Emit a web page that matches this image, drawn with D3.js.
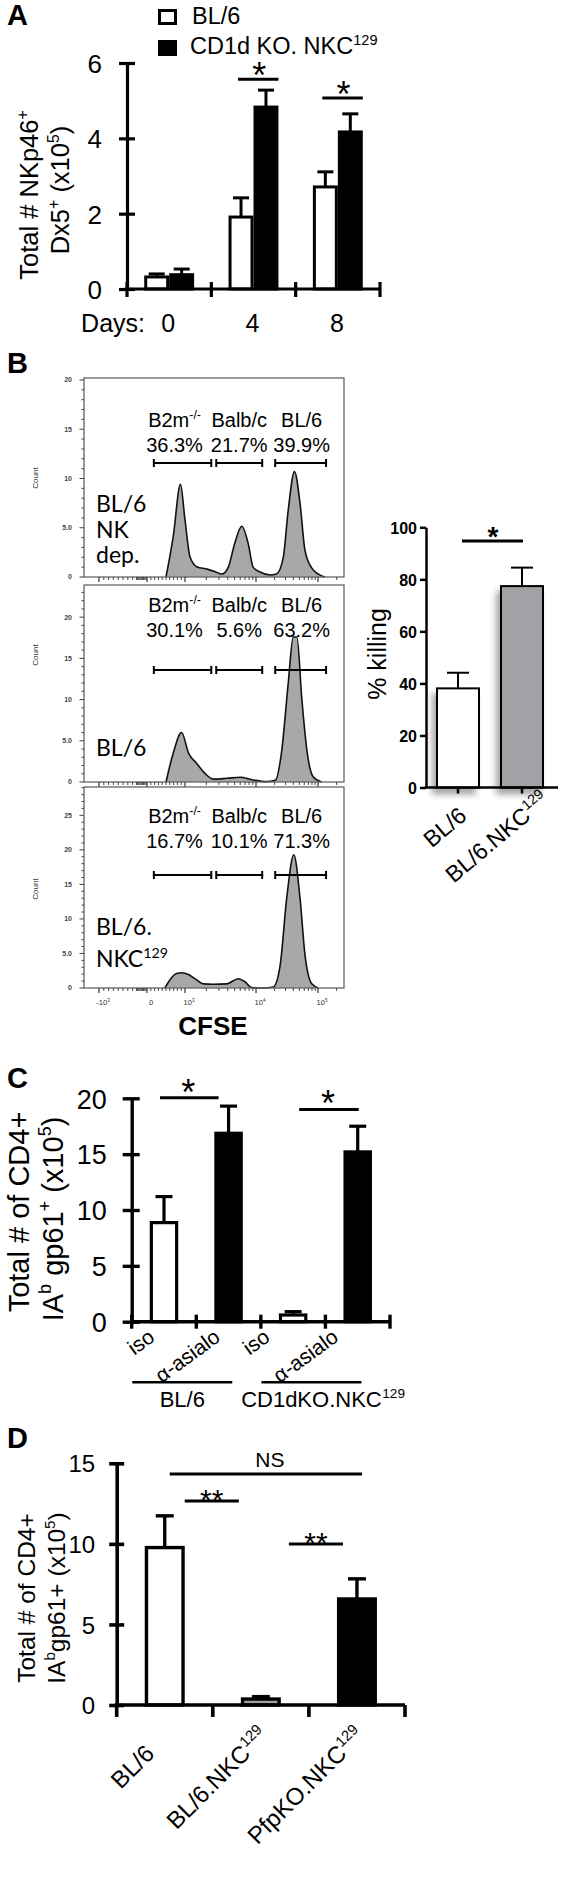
<!DOCTYPE html>
<html><head><meta charset="utf-8">
<script src="https://cdn.jsdelivr.net/npm/d3@7/dist/d3.min.js"></script>
<style>html,body{margin:0;padding:0;background:#fff}svg{display:block}</style>
</head><body>
<svg id="fig" width="561" height="1891" xmlns="http://www.w3.org/2000/svg"></svg>
<script>
// ================= DATA =================
// Panel A
const daysA = ["0", "4", "8"];
const seriesA = ["BL/6", "CD1d KO. NKC^{129}"];
const bl6A = [0.32, 1.91, 2.71];
const bl6ErrA = [0.08, 0.51, 0.40];
const cd1dA = [0.38, 4.83, 4.17];
const cd1dErrA = [0.15, 0.45, 0.48];
const yTicksA = [0, 2, 4, 6];
const sigDaysA = ["4", "8"];
const sigLevelA = [5.57, 5.07];

// Panel B histograms (x = position on CFSE axis: -1=-10^3, 0=0, 1=10^3, 2=10^4, 3=10^5; y = count)
const cfseTickPos = [-1, 0, 1, 2, 3];
const cfseTickLabels = ["-10^{3}", "0", "10^{3}", "10^{4}", "10^{5}"];
const histSampleLines = [["BL/6", "NK", "dep."], ["BL/6"], ["BL/6.", "NKC^{129}"]];
const gateNames = ["B2m^{-/-}", "Balb/c", "BL/6"];
const gatePct = [["36.3%", "21.7%", "39.9%"], ["30.1%", "5.6%", "63.2%"], ["16.7%", "10.1%", "71.3%"]];
const gateRanges = [[0.18, 1.37], [1.44, 2.10], [2.31, 3.13]];
const countMax = [20.2, 23.9, 29.1];
const countTicks = [[0, 5, 10, 15, 20], [0, 5, 10, 15, 20], [0, 5, 10, 15, 20, 25]];
const countTickText = { 0: "0", 5: "5.0", 10: "10", 15: "15", 20: "20", 25: "25" };
const histNKdep = [[0.50,0],[0.69,4.1],[0.88,9.4],[1.00,5.8],[1.07,2.05],[1.165,1.05],[1.31,0.8],[1.42,0.55],[1.52,0.3],[1.61,1.0],[1.70,3.4],[1.80,5.15],[1.89,3.4],[1.96,1.0],[2.065,0.5],[2.23,0.2],[2.33,0.3],[2.44,2.0],[2.52,6.8],[2.62,10.7],[2.71,7.5],[2.79,2.7],[2.90,0.9],[3.005,0.3],[3.11,0]];
const histBL6 = [[0.50,0],[0.69,3.5],[0.91,6.0],[1.05,3.5],[1.165,2.25],[1.28,1.05],[1.40,0.35],[1.59,0.45],[1.775,0.57],[1.96,0.25],[2.17,0.05],[2.31,0.2],[2.41,3.5],[2.52,12],[2.60,17.6],[2.66,17.6],[2.74,10],[2.82,3.9],[2.92,0.65],[3.06,0]];
const histNKC = [[0.47,0],[0.605,1.2],[0.78,2.1],[0.91,2.2],[1.05,1.95],[1.14,1.35],[1.26,0.6],[1.40,0.55],[1.59,0.6],[1.75,1.35],[1.845,0.9],[1.94,0.05],[2.12,0],[2.28,0.15],[2.39,3.3],[2.495,13],[2.61,19.3],[2.71,13],[2.79,4.8],[2.90,0.6],[3.005,0]];
const histogramsB = [histNKdep, histBL6, histNKC];

// Panel B % killing
const killGroups = ["BL/6", "BL/6.NKC^{129}"];
const killMean = [38.1, 77.4];
const killErr = [6.0, 7.1];
const killTicks = [0, 20, 40, 60, 80, 100];
const killSigLevel = 94.7;

// Panel C
const condC = ["iso", "α-asialo", "iso", "α-asialo"];
const groupsC = ["BL/6", "CD1dKO.NKC^{129}"];
const meanC = [8.87, 16.87, 0.6, 15.2];
const errC = [2.33, 2.43, 0.3, 2.3];
const yTicksC = [0, 5, 10, 15, 20];
const sigPairsC = [[0, 1], [2, 3]];
const sigLevelC = [20.05, 19.0];

// Panel D
const groupsD = ["BL/6", "BL/6.NKC^{129}", "PfpKO.NKC^{129}"];
const meanD = [9.77, 0.37, 6.58];
const errD = [1.97, 0.15, 1.25];
const yTicksD = [0, 5, 10, 15];
const sigPairsD = [[0, 2], [0, 1], [1, 2]];
const sigLevelD = [14.34, 12.66, 9.99];
const sigLabelD = ["NS", "**", "**"];

// ================= HELPERS =================
const F = "'Liberation Sans', Arial, Helvetica, sans-serif";
const FL = "Lato, 'Open Sans', sans-serif";
const svg = d3.select("#fig");

function parse(s) {
  const parts = []; const re = /\^\{([^}]*)\}/g; let last = 0, m;
  while ((m = re.exec(s))) {
    if (m.index > last) parts.push({ t: s.slice(last, m.index), sup: false });
    parts.push({ t: m[1], sup: true }); last = re.lastIndex;
  }
  if (last < s.length) parts.push({ t: s.slice(last), sup: false });
  return parts;
}
function rich(parent, str, size, attrs = {}, family = F) {
  const t = parent.append("text").attr("font-size", size).attr("font-family", family).attr("fill", "#000");
  for (const k in attrs) t.attr(k, attrs[k]);
  const sh = size * 0.4; let prev = false;
  parse(str).forEach(p => {
    const ts = t.append("tspan").text(p.t);
    if (p.sup) ts.attr("font-size", size * 0.62);
    if (p.sup && !prev) ts.attr("dy", -sh);
    if (!p.sup && prev) ts.attr("dy", sh);
    prev = p.sup;
  });
  return t;
}
// label whose trailing superscript hangs past the anchor
function supLabel(parent, str, size, anchor, family = F, weight = "normal") {
  const parts = parse(str);
  let supTxt = null;
  if (parts.length > 1 && parts[parts.length - 1].sup) supTxt = parts.pop().t;
  const mainStr = parts.map(p => p.sup ? `^{${p.t}}` : p.t).join("");
  const main = rich(parent, mainStr, size, { "text-anchor": anchor, "font-weight": weight }, family);
  if (supTxt) {
    const w = main.node().getComputedTextLength();
    const xEnd = anchor === "end" ? 0 : anchor === "middle" ? w / 2 : w;
    parent.append("text").attr("x", xEnd + 0.5).attr("y", -size * 0.4).attr("font-size", size * 0.62)
      .attr("font-family", family).attr("font-weight", weight).text(supTxt);
  }
}
function line(g, x1, y1, x2, y2, sw, col = "#000") {
  return g.append("line").attr("x1", x1).attr("y1", y1).attr("x2", x2).attr("y2", y2)
    .attr("stroke", col).attr("stroke-width", sw);
}
function yAxis(g, scale, x, ticks, o) {
  const ax = g.append("g").attr("transform", `translate(${x},0)`)
    .call(d3.axisLeft(scale).tickValues(ticks).tickSize(o.out).tickSizeOuter(0).tickPadding(o.pad).tickFormat(d3.format("d")));
  ax.select(".domain").attr("stroke", "#000").attr("stroke-width", o.sw);
  ax.selectAll(".tick line").attr("stroke", "#000").attr("stroke-width", o.sw).attr("x1", o.inn || 0);
  ax.selectAll(".tick text").attr("font-size", o.size).attr("font-family", F).attr("fill", "#000")
    .attr("font-weight", o.weight || "normal").attr("dy", "0.36em");
  return ax;
}
function barWithErr(g, cx, w, y, v, e, fill, sw, cap, filter) {
  line(g, cx, y(v), cx, y(v + e), sw);
  line(g, cx - cap, y(v + e), cx + cap, y(v + e), sw);
  const r = g.append("rect").attr("x", cx - w / 2 + sw / 2).attr("width", w - sw)
    .attr("y", y(v)).attr("height", y(0) - y(v)).attr("fill", fill).attr("stroke", "#000").attr("stroke-width", sw);
  if (filter) r.attr("filter", filter);
}
function star(g, x, y, txt, size, weight = "normal") {
  g.append("text").attr("x", x).attr("y", y).attr("text-anchor", "middle").attr("font-size", size)
    .attr("font-family", F).attr("font-weight", weight).text(txt);
}
function panelLetter(t, x, y) {
  svg.append("text").attr("x", x).attr("y", y).attr("font-size", 29).attr("font-weight", "bold")
    .attr("font-family", F).text(t);
}
function yTitle(g, str, x, y, size) {
  rich(g, str, size, { "text-anchor": "middle", transform: `translate(${x},${y}) rotate(-90)` });
}

const defs = svg.append("defs");
const flt = defs.append("filter").attr("id", "shadow").attr("x", "-40%").attr("y", "-10%").attr("width", "180%").attr("height", "130%");
flt.append("feDropShadow").attr("dx", -4).attr("dy", 6).attr("stdDeviation", 3).attr("flood-color", "#000").attr("flood-opacity", 0.35);

// ================= PANEL A =================
{
  const g = svg.append("g");
  panelLetter("A", 7, 25);
  const y = d3.scaleLinear().domain([0, 6]).range([289, 63]);
  const x = d3.scaleBand().domain(daysA).range([127, 380]);
  const xi = d3.scaleBand().domain(seriesA).range([0, x.bandwidth()]).paddingOuter(0.69);
  const vals = [bl6A, cd1dA], errs = [bl6ErrA, cd1dErrA], fills = ["#fff", "#000"];
  seriesA.forEach((s, si) => daysA.forEach((d, di) => {
    const cx = x(d) + xi(s) + xi.bandwidth() / 2;
    barWithErr(g, cx, xi.bandwidth(), y, vals[si][di], errs[si][di], fills[si], 3, 8);
  }));
  yAxis(g, y, 127, yTicksA, { out: 8, inn: 8, pad: 17, sw: 3.2, size: 26 });
  const bounds = daysA.map(d => x(d)).concat([x.range()[1]]);
  line(g, 127 - 1.6, y(0), x.range()[1], y(0), 3.2);
  bounds.forEach(b => line(g, b, y(0) - 7, b, y(0) + 8, 3.2));
  sigDaysA.forEach((d, i) => {
    const x1 = x(d) + xi(seriesA[0]) + xi.bandwidth() / 2 - 3;
    const x2 = x(d) + xi(seriesA[1]) + xi.bandwidth();
    const ly = y(sigLevelA[i]);
    line(g, x1, ly, x2, ly, 3);
    star(g, (x1 + x2) / 2 + 1, ly + 9, "*", 36);
  });
  g.append("text").attr("x", 145).attr("y", 332).attr("text-anchor", "end").attr("font-size", 25).attr("font-family", F).text("Days:");
  daysA.forEach(d => g.append("text").attr("x", x(d) + x.bandwidth() / 2 - 1).attr("y", 332).attr("text-anchor", "middle")
    .attr("font-size", 25).attr("font-family", F).text(d));
  g.append("rect").attr("x", 159.5).attr("y", 10.5).attr("width", 16).attr("height", 13).attr("fill", "#fff").attr("stroke", "#000").attr("stroke-width", 3);
  g.append("rect").attr("x", 158).attr("y", 40).attr("width", 19).attr("height", 16).attr("fill", "#000");
  rich(g, seriesA[0], 23.5, { x: 192, y: 23.5 });
  rich(g, seriesA[1], 23.5, { x: 190, y: 54 });
  yTitle(g, "Total # NKp46^{+}", 38, 195, 25.5);
  yTitle(g, "Dx5^{+} (x10^{5})", 69, 190, 25.5);
}

// ================= PANEL B histograms =================
{
  const g = svg.append("g");
  panelLetter("B", 7, 373);
  const hx = d3.scaleLinear().domain(cfseTickPos).range([99, 147, 185, 256, 318]);
  const frames = [[378, 577], [585, 782], [787, 988]];
  const nameY = [427, 612, 823], gateY = [463, 670, 875];
  const sampleY = [512, 756, 935], sampleStep = [25.5, 0, 31.7];
  const countY = [478, 655, 889];
  const gateOffset = [-8, 0, 1];
  const fx0 = 84, fx1 = 344;
  const minor = [];
  for (let i = 1; i <= 7; i++) minor.push(-1 + i * 0.1);
  for (let p = -0.22; p < -0.01; p += 0.025) minor.push(p);
  for (let i = 1; i <= 9; i++) minor.push(i * 0.1);
  for (let dec = 1; dec <= 3; dec++) for (let k = 2; k <= 9; k++) { if (dec === 3 && k > 2) break; minor.push(dec + Math.log10(k)); }

  histogramsB.forEach((data, i) => {
    const [top, bot] = frames[i];
    const hy = d3.scaleLinear().domain([0, countMax[i]]).range([bot, top]);
    const area = d3.area().x(d => hx(d[0])).y0(hy(0)).y1(d => hy(d[1])).curve(d3.curveMonotoneX);
    const ln = d3.line().x(d => hx(d[0])).y(d => hy(d[1])).curve(d3.curveMonotoneX);
    g.append("path").datum(data).attr("d", area).attr("fill", "#a8a8a8");
    g.append("path").datum(data).attr("d", ln).attr("fill", "none").attr("stroke", "#111").attr("stroke-width", 1.6);
    g.append("rect").attr("x", fx0).attr("y", top).attr("width", fx1 - fx0).attr("height", bot - top)
      .attr("fill", "none").attr("stroke", "#666").attr("stroke-width", 1.3);
    for (let c = 0; c <= Math.floor(countMax[i]); c++) {
      const major = countTicks[i].includes(c);
      line(g, fx0 - (major ? 4.5 : 2.5), hy(c), fx0, hy(c), 1, "#444");
    }
    countTicks[i].forEach(c => g.append("text").attr("x", 72).attr("y", hy(c)).attr("dy", "0.35em")
      .attr("text-anchor", "end").attr("font-size", 7).attr("font-weight", "bold").attr("fill", "#444")
      .attr("font-family", F).text(countTickText[c]));
    g.append("text").attr("transform", `translate(38,${countY[i]}) rotate(-90)`).attr("text-anchor", "middle")
      .attr("font-size", 8).attr("fill", "#333").attr("font-family", F).text("Count");
    cfseTickPos.forEach(p => line(g, hx(p), bot, hx(p), bot + 5, 1.2, "#333"));
    minor.forEach(p => line(g, hx(p), bot, hx(p), bot + 3, 0.9, "#333"));
    gateRanges.forEach((r, k) => {
      const a = hx(r[0]), b = hx(r[1]), gy = gateY[i];
      line(g, a, gy, b, gy, 2); line(g, a, gy - 4, a, gy + 4, 2); line(g, b, gy - 4, b, gy + 4, 2);
      const cx = (a + b) / 2 + gateOffset[k];
      rich(g, gateNames[k], 20, { x: cx, y: nameY[i], "text-anchor": "middle" });
      g.append("text").attr("x", cx).attr("y", nameY[i] + 25).attr("text-anchor", "middle").attr("font-size", 20)
        .attr("font-family", F).text(gatePct[i][k]);
    });
    histSampleLines[i].forEach((s, k) => rich(g, s, 23, { x: 96, y: sampleY[i] + k * sampleStep[i] }, FL));
  });
  cfseTickPos.forEach((p, k) => rich(g, cfseTickLabels[k], 7.5, { x: hx(p) + 4, y: 1005, "text-anchor": "middle", fill: "#333" }));
  g.append("text").attr("x", 213).attr("y", 1035).attr("text-anchor", "middle").attr("font-size", 26)
    .attr("font-weight", "bold").attr("font-family", F).text("CFSE");
}

// ================= PANEL B % killing =================
{
  const g = svg.append("g");
  const y = d3.scaleLinear().domain([0, 100]).range([787.5, 527.3]);
  const x = d3.scalePoint().domain(killGroups).range([426, 554]).padding(0.5);
  const fills = ["#fff", "#a2a2a6"];
  killGroups.forEach((k, i) => barWithErr(g, x(k), 44, y, killMean[i], killErr[i], fills[i], 2, 11, "url(#shadow)"));
  yAxis(g, y, 426, killTicks, { out: 6, pad: 3, sw: 2.5, size: 16, weight: "bold" });
  line(g, 426 - 1.25, y(0), 558, y(0), 2.5);
  killGroups.forEach(k => line(g, x(k), y(0), x(k), y(0) + 6, 2.5));
  const ly = y(killSigLevel);
  line(g, x(killGroups[0]) + 4, ly, x(killGroups[1]) + 1, ly, 3);
  star(g, (x(killGroups[0]) + x(killGroups[1])) / 2 + 3, ly + 5, "*", 28, "bold");
  killGroups.forEach(k => {
    const gg = g.append("g").attr("transform", `translate(${x(k) + 10},818) rotate(-40)`);
    supLabel(gg, k, 23, "end");
  });
  yTitle(g, "% killing", 386, 654, 25);
}

// ================= PANEL C =================
{
  const g = svg.append("g");
  panelLetter("C", 7, 1088);
  const y = d3.scaleLinear().domain([0, 20]).range([1321.7, 1098.3]);
  const idx = condC.map((c, i) => i);
  const x = d3.scaleBand().domain(idx).range([131.7, 390]);
  const cx = i => x(i) + x.bandwidth() / 2;
  idx.forEach(i => barWithErr(g, cx(i), 28.5, y, meanC[i], errC[i], condC[i] === "iso" ? "#fff" : "#000", 3.2, 8.5));
  yAxis(g, y, 131.7, yTicksC, { out: 9, inn: 8, pad: 16, sw: 3.4, size: 27 });
  line(g, 131.7 - 1.7, y(0), 390, y(0), 3.4);
  idx.map(i => x(i)).concat([390]).forEach(b => line(g, b, y(0) - 7, b, y(0) + 7, 3.4));
  const sigOff = [[-4, -10], [6, 1]];
  sigPairsC.forEach((p, k) => {
    const x1 = cx(p[0]) + sigOff[k][0], x2 = cx(p[1]) + sigOff[k][1], ly = y(sigLevelC[k]);
    line(g, x1, ly, x2, ly, 3);
    star(g, (x1 + x2) / 2 - 1, ly + 7, "*", 36);
  });
  const labShift = [-8, -7, -22, -18];
  idx.forEach(i => {
    g.append("text").attr("transform", `translate(${cx(i) + labShift[i]},1340) rotate(-36)`).attr("text-anchor", "end")
      .attr("font-size", 21).attr("font-family", F).text(condC[i]);
  });
  groupsC.forEach((gr, k) => {
    const gc = (x(2 * k) + x(2 * k + 1) + x.bandwidth()) / 2 - 14;
    line(g, gc - 50, 1382.3, gc + 50, 1382.3, 2.5);
    const gg = g.append("g").attr("transform", `translate(${gc},1407)`);
    supLabel(gg, gr, 22, "middle");
  });
  yTitle(g, "Total # of CD4+", 29, 1212, 29);
  yTitle(g, "IA^{b} gp61^{+} (x10^{5})", 63, 1219, 29);
}

// ================= PANEL D =================
{
  const g = svg.append("g");
  panelLetter("D", 7, 1448);
  const y = d3.scaleLinear().domain([0, 15]).range([1705, 1463.3]);
  const x = d3.scaleBand().domain(groupsD).range([116.7, 405]);
  const cx = k => x(k) + x.bandwidth() / 2;
  const fills = ["#fff", "#a0a0a0", "#000"];
  groupsD.forEach((k, i) => barWithErr(g, cx(k), 40, y, meanD[i], errD[i], fills[i], 3.4, 9));
  yAxis(g, y, 116.7, yTicksD, { out: 7.5, inn: 7.5, pad: 14, sw: 3.6, size: 24 });
  line(g, 116.7 - 1.8, y(0), 405, y(0), 3.6);
  groupsD.map(k => x(k)).concat([405]).forEach(b => line(g, b, y(0), b, y(0) + 12, 3.6));
  sigPairsD.forEach((p, k) => {
    const a = groupsD[p[0]], b = groupsD[p[1]];
    let x1, x2;
    if (sigLabelD[k] === "NS") { x1 = cx(a) + 5; x2 = cx(b) + 5; }
    else { x1 = cx(a) + 20 + (k === 2 ? 8 : 0); x2 = cx(b) - 20 + (k === 2 ? 8 : 0) - 2; }
    const ly = y(sigLevelD[k]);
    line(g, x1, ly, x2, ly, 3);
    if (sigLabelD[k] === "NS") star(g, (x1 + x2) / 2 + 4, ly - 7, "NS", 21);
    else star(g, (x1 + x2) / 2, ly + 9, "**", 30);
  });
  groupsD.forEach(k => {
    const gg = g.append("g").attr("transform", `translate(${cx(k) - 9},1755) rotate(-45)`);
    supLabel(gg, k, 24, "end");
  });
  yTitle(g, "Total # of CD4+", 35, 1598, 24.5);
  yTitle(g, "IA^{b}gp61+ (x10^{5})", 64.5, 1598, 24.5);
}
</script></body></html>
